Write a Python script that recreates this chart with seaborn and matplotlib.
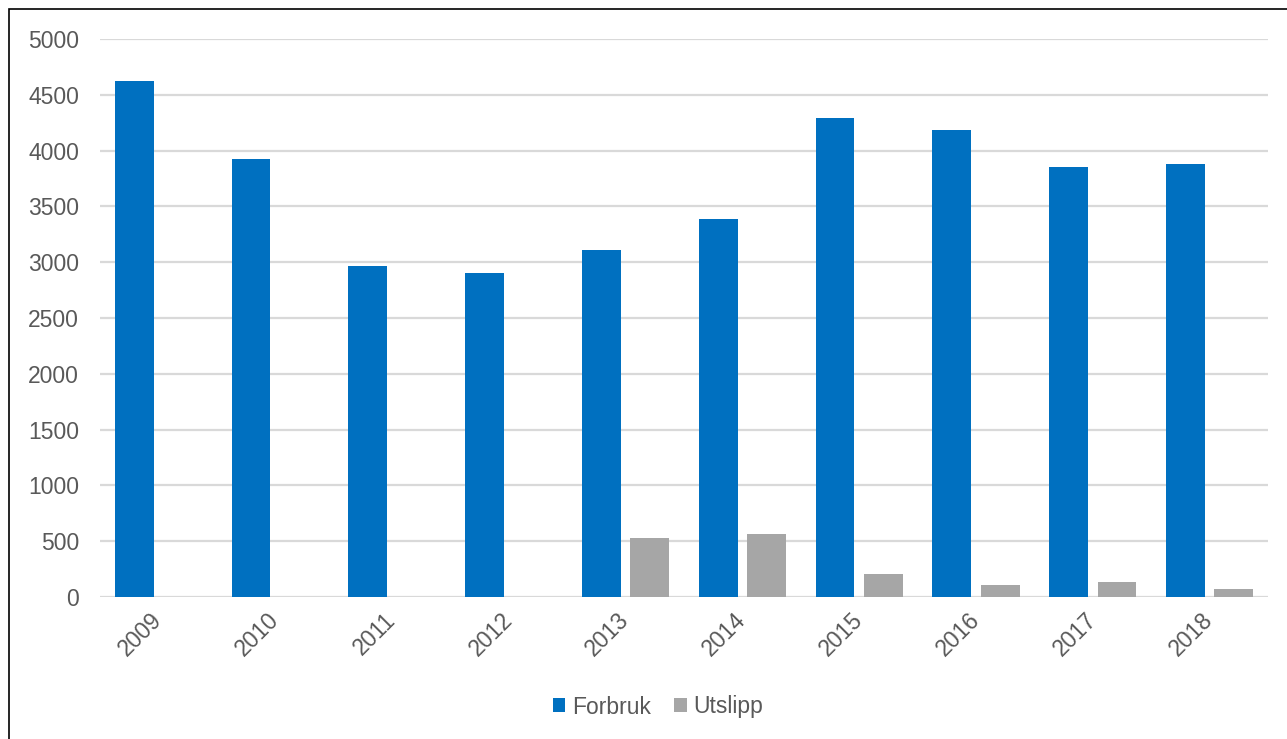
import matplotlib
matplotlib.use("Agg")
import matplotlib.pyplot as plt
import seaborn as sns
import pandas as pd
from matplotlib.patches import Rectangle

years = ["2009", "2010", "2011", "2012", "2013", "2014", "2015", "2016", "2017", "2018"]
forbruk = [4624, 3925, 2966, 2903, 3109, 3387, 4292, 4185, 3853, 3880]
utslipp = [0, 0, 0, 0, 529, 565, 206, 108, 131, 72]
series_names = ["Forbruk", "Utslipp"]
colors = ["#0070c0", "#a6a6a6"]
yticks = [0, 500, 1000, 1500, 2000, 2500, 3000, 3500, 4000, 4500, 5000]

df = pd.DataFrame({
    "year": years * 2,
    "value": forbruk + utslipp,
    "series": [series_names[0]] * len(years) + [series_names[1]] * len(years),
})

sns.set_theme(style="white")
plt.rcParams["font.family"] = ["Liberation Sans", "DejaVu Sans"]

W, H = 1287, 739
fig = plt.figure(figsize=(W / 100, H / 100), dpi=100)
ax = fig.add_axes([100 / W, 1 - 597 / H, 1168 / W, 558 / H])

sns.barplot(data=df, x="year", y="value", hue="series", order=years,
            hue_order=series_names, palette=colors, width=0.83, gap=0.2,
            saturation=1, ax=ax, legend=True, edgecolor="none")

ax.set_ylim(0, 5000)
ax.set_yticks(yticks)
ax.set_xlim(-0.5, len(years) - 0.5)
ax.set_xlabel("")
ax.set_ylabel("")
ax.yaxis.grid(True, color="#d9d9d9", linewidth=1.6)
ax.set_axisbelow(True)
for s in ax.spines.values():
    s.set_visible(False)
txtc = "#595959"
ax.tick_params(axis="y", length=0, pad=15, labelsize=16.5, labelcolor=txtc)
ax.tick_params(axis="x", length=0, pad=14, labelsize=16.5, labelcolor=txtc)
for lab in ax.get_xticklabels():
    lab.set_rotation(45)
    lab.set_ha("right")
    lab.set_va("center")
    lab.set_rotation_mode("anchor")

handles, labels = ax.get_legend_handles_labels()
ax.legend(handles, labels, loc="center", bbox_to_anchor=(658 / W, 1 - 707 / H),
          bbox_transform=fig.transFigure, ncol=2, frameon=False, fontsize=16.5,
          labelcolor=txtc, handlelength=0.55, handleheight=0.55, handletextpad=0.3,
          columnspacing=1.0)

fig.patches.append(Rectangle((9 / W, -0.05), 1.1, 1 - 9 / H + 0.05,
                             transform=fig.transFigure, fill=False,
                             edgecolor="black", linewidth=1.2, figure=fig))

fig.savefig("out.png", dpi=100)
